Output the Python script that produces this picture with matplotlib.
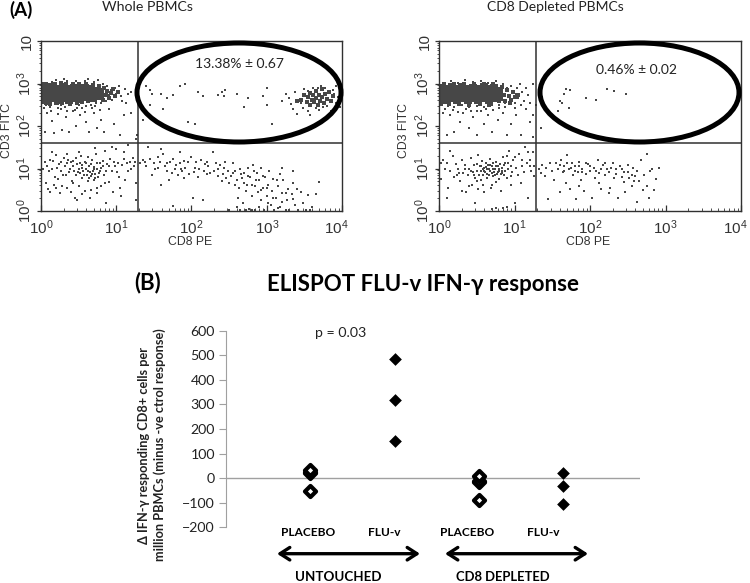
import numpy as np
import matplotlib
matplotlib.use("Agg")
import matplotlib.pyplot as plt
from matplotlib.patches import Ellipse, FancyArrowPatch
from matplotlib.ticker import LogLocator, NullFormatter
from matplotlib.transforms import ScaledTranslation

W, H = 750, 583
plt.rcParams['mathtext.default'] = 'regular'
plt.rcParams['font.family'] = ['Lato', 'DejaVu Sans']

# ---- Flow panels: values are log10 (CD8 PE, CD3 FITC)
flow_xticks = [1, 10, 100, 1000, 10000]
flow_xlabels = ['$10^{0}$', '$10^{1}$', '$10^{2}$', '$10^{3}$', '$10^{4}$']
flow_ylabels = ['$10^{0}$', '$10^{1}$', '$10^{2}$', '$10^{3}$', '10']
gate_cd8 = 1.29
gate_cd3 = 1.60

whole_core = [(0.03,2.66),(0.03,2.8),(0.03,2.9),(0.09,2.6),(0.09,2.73),(0.1,2.86),(0.16,2.66),(0.17,2.8),(0.16,2.92),
 (0.23,2.62),(0.24,2.74),(0.23,2.87),(0.3,2.65),(0.31,2.8),(0.3,2.92),(0.37,2.62),(0.38,2.75),(0.37,2.88),(0.44,2.67),(0.45,2.8),
 (0.44,2.9),(0.51,2.64),(0.52,2.76),(0.51,2.88),(0.58,2.68),(0.58,2.8),(0.59,2.9),(0.65,2.66),(0.65,2.77),(0.66,2.86),
 (0.71,2.72),(0.72,2.82),(0.78,2.7),(0.78,2.8)]
whole_mid = [(0.02,2.98),(0.07,3.0),(0.12,2.52),(0.18,2.99),(0.21,2.55),(0.26,3.02),(0.28,2.54),(0.33,2.98),(0.39,2.52),(0.42,3.0),
 (0.48,2.54),(0.5,2.98),(0.55,2.56),(0.6,3.0),(0.63,2.58),(0.69,2.97),(0.72,2.62),(0.77,2.93),(0.82,2.62),(0.84,2.9),(0.86,2.72),
 (0.88,2.83),(0.9,2.66),(0.93,2.78),(0.96,2.88),(0.98,2.7),(1.02,2.8),
 (3.46,2.62),(3.5,2.72),(3.53,2.56),(3.55,2.68),(3.58,2.78),(3.58,2.5),(3.6,2.62),(3.62,2.72),(3.63,2.56),(3.65,2.82),(3.66,2.66),
 (3.68,2.5),(3.7,2.74),(3.71,2.6),(3.73,2.86),(3.74,2.68),(3.76,2.54),(3.78,2.76),(3.8,2.64),(3.83,2.8),(3.85,2.58),(3.4,2.58),(3.88,2.7)]
whole_dots = [(0.02,2.55),(0.05,3.02),(0.07,2.5),(0.1,3.0),(0.12,2.45),(0.15,3.03),(0.18,2.52),(0.2,3.08),(0.22,2.42),(0.25,3.02),
 (0.27,2.5),(0.3,3.1),(0.32,2.45),(0.35,3.05),(0.38,2.5),(0.42,3.0),(0.45,2.38),(0.47,3.07),(0.5,2.5),(0.52,3.02),(0.55,2.42),
 (0.58,3.05),(0.6,2.48),(0.63,3.1),(0.66,2.5),(0.7,3.03),(0.73,2.55),(0.76,3.08),(0.8,2.55),(0.82,3.0),(0.86,2.6),(0.88,2.95),
 (0.9,2.72),(0.93,2.85),(0.95,2.62),(0.98,2.9),(1.0,2.75),(1.03,2.95),(1.06,2.7),(1.12,2.88),(1.15,2.75),(1.2,2.8),
 (0.08,2.3),(0.15,2.12),(0.22,2.28),(0.28,1.9),(0.33,2.22),(0.37,1.85),(0.42,2.35),(0.46,2.0),(0.52,2.25),(0.6,2.1),(0.64,1.85),
 (0.7,2.3),(0.75,1.95),(0.8,2.15),(0.84,1.85),(0.9,2.4),(0.97,2.05),(1.05,1.8),(1.1,2.25),(1.2,2.3),(1.26,1.7),(1.27,1.8),(0.05,1.85),(0.17,1.84),
 (0.04,2.42),(0.13,2.35),(0.26,2.4),(0.35,2.36),(0.48,2.42),(0.58,2.32),(0.68,2.42),(0.78,2.38),(1.08,2.6),(1.13,2.55),(0.72,2.48),
 (1.4,2.95),(1.45,2.85),(1.47,2.75),(1.6,2.75),(1.68,2.65),(1.85,2.95),(1.92,3.0),(1.75,2.72),(2.08,2.8),(2.15,2.7),(2.35,2.72),
 (2.4,2.8),(2.45,2.85),(2.43,2.7),(2.6,2.75),(2.75,2.65),(3.0,2.9),(2.95,2.7),(3.0,2.5),(2.7,2.45),(1.45,2.5),(1.62,2.4),(1.95,2.1),
 (2.05,2.05),(1.35,2.15),(3.07,2.05),(3.2,2.6),(3.25,2.75),(3.3,2.65),(3.32,2.52),(3.35,2.4),(3.4,2.28),(3.38,2.8),(3.45,2.55),
 (3.5,2.86),(3.48,2.42),(3.55,2.82),(3.55,2.35),(3.58,2.25),(3.62,2.9),(3.65,2.42),(3.68,2.9),(3.7,2.38),(3.72,2.95),(3.75,2.45),
 (3.78,2.9),(3.8,2.48),(3.9,2.75),(3.85,2.35),(3.88,2.85),(3.92,2.55),(3.92,2.95),(3.95,2.68),(3.97,2.45)]
whole_lower = [(0.05,1.15),(0.08,1.05),(0.1,0.95),(0.12,1.2),(0.15,1.0),(0.18,0.8),(0.06,0.65),(0.2,1.32),(0.22,0.75),(0.24,1.1),
 (0.26,0.95),(0.28,0.6),(0.3,1.25),(0.32,1.05),(0.33,0.85),(0.35,0.55),(0.36,1.2),(0.38,1.0),(0.4,1.15),(0.41,0.7),(0.42,1.05),
 (0.44,0.95),(0.45,0.3),(0.46,1.25),(0.47,0.85),(0.48,1.1),(0.5,1.0),(0.51,0.6),(0.52,0.9),(0.53,1.3),(0.54,1.08),(0.55,0.78),
 (0.56,0.95),(0.58,1.15),(0.59,0.48),(0.6,1.0),(0.61,0.85),(0.62,1.28),(0.63,0.7),(0.64,1.05),(0.65,0.92),(0.66,0.5),(0.67,0.82),
 (0.68,1.2),(0.69,0.95),(0.7,0.72),(0.71,1.03),(0.72,0.87),(0.73,1.35),(0.74,0.55),(0.75,0.98),(0.76,0.8),(0.78,1.12),(0.79,0.95),
 (0.8,0.6),(0.82,1.05),(0.84,0.85),(0.85,1.42),(0.86,0.2),(0.88,1.1),(0.9,0.68),(0.92,1.22),(0.94,0.95),(0.96,0.45),(0.98,1.05),
 (1.0,1.45),(1.02,1.12),(1.04,0.8),(1.06,0.35),(1.08,1.08),(1.1,1.22),(1.12,0.72),(1.14,1.12),(1.16,0.95),(1.18,1.15),(1.2,0.98),
 (1.22,1.25),(1.24,1.05),(1.26,0.65),(1.26,0.25),(1.25,1.15),(0.14,1.4),(0.35,1.35),(0.5,1.4),(0.72,1.48),(0.95,1.5),(1.15,1.55),
 (0.12,0.45),(0.2,0.55),(0.4,0.45),(0.48,0.25),(0.42,0.65),(0.65,0.3),(0.85,0.65),(1.05,0.55),
 (0.34,1.12),(0.37,0.92),(0.43,1.18),(0.49,0.92),(0.52,1.12),(0.55,1.02),(0.57,0.85),(0.6,1.12),(0.62,0.95),(0.64,0.78),(0.66,1.1),
 (0.68,0.88),(0.7,1.0),(0.72,0.78),(0.74,1.12),(0.77,0.9),(0.8,1.02),(0.83,1.18),(0.87,0.95),(0.91,1.05),(0.97,1.15),(1.01,0.92),
 (0.16,1.18),(0.21,1.02),(0.27,1.15),(0.29,0.85),(0.03,0.98),(0.09,0.52),(0.17,0.62),(0.25,0.42),(0.55,0.4),(0.75,0.42),(1.1,1.4),
 (1.32,1.12),(1.35,1.2),(1.38,1.15),(1.4,1.05),(1.42,1.5),(1.45,1.22),(1.48,0.85),(1.5,1.12),(1.52,1.0),(1.55,1.28),(1.58,1.15),
 (1.6,0.62),(1.62,1.35),(1.65,1.05),(1.68,0.95),(1.7,0.72),(1.72,1.15),(1.75,0.12),(1.78,0.98),(1.8,1.08),(1.82,0.85),(1.85,1.12),
 (1.88,0.95),(1.9,0.78),(1.92,1.02),(1.95,1.15),(1.97,0.88),(2.0,1.28),(2.02,0.3),(2.05,1.02),(2.08,0.8),(2.1,0.98),(2.12,1.2),
 (2.15,0.25),(2.18,1.1),(2.2,0.88),(2.22,1.05),(2.25,0.9),(2.28,1.38),(2.3,0.95),(2.32,1.12),(2.35,0.82),(2.38,1.08),(2.4,0.7),
 (2.42,0.88),(2.45,1.15),(2.48,0.95),(2.5,0.65),(2.52,0.82),(2.55,1.12),(2.58,0.95),(2.6,0.72),(2.62,0.3),(2.63,0.55),(2.65,1.0),
 (2.67,0.78),(2.68,0.2),(2.7,0.9),(2.72,0.48),(2.74,0.62),(2.75,1.02),(2.77,0.05),(2.78,0.8),(2.8,0.35),(2.82,1.08),(2.84,0.6),
 (2.85,0.02),(2.87,0.9),(2.88,0.45),(2.9,0.72),(2.92,0.25),(2.93,1.02),(2.95,0.55),(2.97,0.02),(2.98,0.8),(3.0,0.35),(3.02,0.62),
 (3.03,0.95),(3.05,0.15),(3.07,0.48),(3.08,0.75),(3.1,0.02),(3.12,0.3),(3.15,0.58),(3.17,0.88),(3.18,0.1),(3.2,0.42),(3.22,0.72),
 (3.25,0.02),(3.27,0.25),(3.28,0.52),(3.3,0.02),(3.33,0.4),(3.35,0.65),(3.38,0.15),(3.42,0.03),(3.45,0.45),(3.48,0.2),(3.52,0.02),
 (3.55,0.38),(3.58,0.02),(3.6,0.1),(3.7,0.68),(3.65,0.4),(3.35,0.95),(3.2,1.02),(2.5,0.02),(2.65,0.02),(2.72,0.02),(2.6,0.1),
 (1.55,1.02),(1.68,1.12),(1.74,0.9),(1.76,1.22),(1.86,1.0),(1.9,1.18),(2.03,0.92),(2.06,1.15),(2.16,0.95),(2.2,1.15),(2.35,0.98),
 (2.43,1.02),(2.46,0.78),(2.55,0.9),(2.58,0.62),(2.66,0.88),(2.7,0.65),(2.75,0.82),(2.8,0.62),(2.83,0.95),(2.86,0.72),(2.92,0.5),
 (2.95,0.82),(3.0,0.55),(3.02,0.18),(3.08,0.3),(3.13,0.72),(3.15,0.08),(3.2,0.22),(3.25,0.42),(3.35,0.28),(3.4,0.52),(2.9,0.1),(2.8,0.02),(1.6,1.45),(1.85,1.4)]

depl_core = [(0.03,2.66),(0.04,2.8),(0.03,2.9),(0.1,2.62),(0.1,2.74),(0.1,2.88),(0.17,2.66),(0.17,2.8),(0.17,2.92),(0.24,2.62),
 (0.24,2.75),(0.24,2.88),(0.31,2.65),(0.31,2.78),(0.31,2.92),(0.38,2.62),(0.38,2.75),(0.38,2.88),(0.45,2.65),(0.45,2.78),(0.45,2.9),
 (0.52,2.62),(0.52,2.75),(0.52,2.88),(0.59,2.65),(0.59,2.78),(0.59,2.92),(0.66,2.62),(0.66,2.74),(0.66,2.88),(0.73,2.65),(0.73,2.78),
 (0.73,2.9),(0.8,2.68),(0.8,2.82)]
depl_mid = [(0.02,2.52),(0.07,2.98),(0.13,2.52),(0.2,2.98),(0.26,2.52),(0.33,3.0),(0.4,2.5),(0.47,2.98),(0.54,2.52),(0.6,2.98),(0.66,2.5),
 (0.72,2.98),(0.8,2.58),(0.84,2.92),(0.86,2.72),(0.88,2.6),(0.9,2.84),(0.93,2.7),(0.96,2.62),(0.98,2.8),(1.0,2.68),(1.04,2.74),(0.94,2.55)]
depl_dots = [(0.04,2.5),(0.08,3.02),(0.12,2.48),(0.16,3.05),(0.2,2.45),(0.25,3.02),(0.3,2.5),(0.35,3.08),(0.4,2.45),(0.45,3.03),
 (0.5,2.48),(0.55,3.05),(0.6,2.45),(0.65,3.02),(0.7,2.5),(0.75,3.05),(0.8,2.5),(0.85,3.0),(0.87,2.55),(0.9,2.9),(0.92,2.7),(0.95,2.95),
 (0.97,2.6),(0.98,2.82),(1.0,2.55),(1.02,2.75),(1.03,2.9),(1.05,2.65),(1.07,2.98),(1.1,2.8),(1.12,2.6),(1.15,2.9),(1.18,2.72),(1.2,2.55),(1.25,3.0),
 (0.05,2.3),(0.1,1.8),(0.15,2.25),(0.2,1.85),(0.28,2.1),(0.32,2.3),(0.4,1.95),(0.45,2.2),(0.5,1.78),(0.55,2.35),(0.6,2.05),(0.65,2.25),
 (0.7,1.85),(0.78,2.15),(0.85,2.3),(0.9,1.8),(0.95,2.05),(1.02,2.25),(1.08,1.8),(1.15,2.4),(1.2,2.1),(1.25,2.25),(1.25,1.75),
 (0.08,2.4),(0.18,2.38),(0.25,2.32),(0.36,2.4),(0.42,2.36),(0.5,2.35),(0.62,2.4),(0.72,2.38),(0.8,2.42),(0.88,2.45),(1.0,2.42),(1.08,2.5),
 (1.35,1.95),(1.28,2.5),(1.65,2.75),(1.68,2.88),(1.73,2.85),(1.6,2.6),(1.63,2.55),(1.72,2.42),(1.95,2.65),(2.08,2.62),(2.22,2.88),
 (2.32,2.82),(2.48,2.75),(1.58,2.35),(1.36,2.68)]
depl_lower = [(0.05,1.2),(0.08,1.0),(0.1,1.12),(0.12,0.55),(0.15,0.95),(0.18,1.3),(0.2,0.8),(0.22,1.1),(0.25,1.0),(0.28,0.7),
 (0.3,1.2),(0.32,0.9),(0.34,1.08),(0.36,0.45),(0.38,0.85),(0.4,1.0),(0.42,1.25),(0.44,0.62),(0.45,0.92),(0.47,1.08),(0.48,0.78),
 (0.5,0.95),(0.51,1.32),(0.52,0.52),(0.53,0.85),(0.54,1.05),(0.55,0.72),(0.56,0.95),(0.57,1.18),(0.58,0.85),(0.59,0.45),(0.6,1.02),
 (0.61,0.92),(0.62,1.12),(0.63,0.78),(0.64,0.98),(0.65,1.08),(0.66,0.85),(0.67,1.22),(0.68,0.95),(0.69,0.55),(0.7,1.05),(0.71,0.82),
 (0.72,1.12),(0.73,0.92),(0.74,1.0),(0.75,0.68),(0.76,1.15),(0.77,0.88),(0.78,1.05),(0.79,0.95),(0.8,0.75),(0.81,1.1),(0.82,0.48),
 (0.83,0.9),(0.84,1.02),(0.85,1.28),(0.86,0.85),(0.87,0.95),(0.88,1.12),(0.9,0.78),(0.92,1.0),(0.93,1.42),(0.95,0.62),(0.97,0.92),
 (0.98,1.2),(1.0,0.18),(1.02,1.02),(1.04,0.85),(1.06,1.35),(1.08,0.65),(1.1,1.05),(1.12,0.92),(1.14,1.5),(1.16,1.12),(1.18,0.3),
 (1.2,1.2),(1.22,0.95),(1.24,1.38),(1.26,1.05),(1.26,0.82),(0.1,0.3),(0.15,1.42),(0.48,0.2),(0.7,0.05),(0.75,0.08),(0.85,0.06),(0.3,0.48),(0.9,0.1),
 (0.6,0.95),(0.62,1.04),(0.64,0.88),(0.66,1.0),(0.68,1.08),(0.7,0.9),(0.72,1.0),(0.74,0.85),(0.76,1.05),(0.78,0.92),(0.8,1.0),(0.82,0.86),
 (0.84,0.95),(0.86,1.08),(0.56,1.05),(0.58,0.98),(0.5,1.1),(0.46,0.85),(0.42,0.95),(0.35,0.98),(0.27,0.9),(0.24,0.85),(0.92,1.12),(0.96,1.05),
 (0.7,0.62),(0.58,0.62),(0.5,0.7),(0.4,0.58),(0.95,0.82),(1.0,1.28),(1.1,1.2),(1.2,1.05),(0.03,1.12),(0.02,0.75),(0.9,1.3),(1.18,1.4),
 (1.33,1.0),(1.35,0.9),(1.37,1.08),(1.4,0.82),(1.42,1.02),(1.45,0.28),(1.47,1.12),(1.5,0.95),(1.52,0.72),(1.55,1.12),(1.57,1.0),
 (1.6,0.45),(1.62,1.2),(1.64,0.92),(1.66,1.05),(1.68,0.65),(1.7,1.32),(1.72,0.98),(1.74,0.52),(1.76,1.12),(1.78,0.85),(1.8,1.05),
 (1.82,0.28),(1.84,0.92),(1.86,1.15),(1.88,0.72),(1.9,1.0),(1.92,0.48),(1.95,0.88),(1.97,1.1),(2.0,0.95),(2.03,0.3),(2.05,1.02),
 (2.07,0.78),(2.1,1.2),(2.12,0.9),(2.15,0.52),(2.17,1.08),(2.2,0.85),(2.22,1.0),(2.25,0.92),(2.27,0.55),(2.3,1.12),(2.32,0.78),
 (2.35,0.98),(2.37,0.3),(2.4,1.05),(2.42,0.8),(2.45,0.92),(2.47,0.45),(2.5,1.08),(2.52,0.78),(2.55,0.6),(2.57,1.02),(2.6,0.82),
 (2.62,0.22),(2.65,0.7),(2.68,1.2),(2.7,0.5),(2.72,0.85),(2.75,0.6),(2.78,0.3),(2.8,0.95),(2.82,1.0),(2.85,0.5),(2.88,0.75),(2.75,1.35),(2.92,1.02),
 (1.6,1.08),(1.66,0.95),(1.7,1.12),(1.75,1.02),(1.8,0.95),(1.85,1.05),(1.9,0.92),(1.95,1.12),(2.0,1.05),(2.08,0.95),(2.15,1.0),(2.2,1.12),(2.28,1.02),
 (2.35,0.88),(2.42,1.0),(2.5,0.92),(2.55,0.85),(2.62,0.95),(2.58,0.7),(2.45,0.68),(2.12,0.65),(1.85,0.6),(2.25,0.42)]

# ---- ELISPOT panel
groups = ['PLACEBO', 'FLU-v', 'PLACEBO', 'FLU-v']
eli_ticks = [-200, -100, 0, 100, 200, 300, 400, 500, 600]
placebo_untouched = [-53, 20, 25, 35]
fluv_untouched = [483, 320, 150]
placebo_depleted = [-90, -15, -10, 10]
fluv_depleted = [22, -30, -105]

fig = plt.figure(figsize=(W/100, H/100), dpi=100)

def axes_px(l, t, r, b):
    return fig.add_axes([l/W, 1-b/H, (r-l)/W, (b-t)/H])

def tx(x, y, s, **kw):
    kw.setdefault('ha', 'center'); kw.setdefault('va', 'center')
    return fig.text(x/W, 1-y/H, s, **kw)

def flow(box, core, mid, dots, lower):
    ax = axes_px(*box)
    ax.set_xscale('log'); ax.set_yscale('log')
    ax.set_xlim(1, 10000); ax.set_ylim(1, 10000)
    col = '#474747'
    for arr, s in ((core, 36), (mid, 7), (dots, 2.6), (lower, 2.6)):
        a = np.array(arr)
        ax.scatter(10**a[:, 0], 10**a[:, 1], s=s, marker='s', c=col, linewidths=0, zorder=2)
    ax.axvline(10**gate_cd8, color='#303030', lw=1.1, zorder=3)
    ax.axhline(10**gate_cd3, color='#303030', lw=1.1, zorder=3)
    ax.set_xticks(flow_xticks, flow_xlabels, fontfamily='Liberation Sans', fontsize=11, color='#333333')
    ax.set_yticks(flow_xticks, flow_ylabels, fontfamily='Liberation Sans', fontsize=11, color='#333333',
                  rotation=90, va='center')
    ax.tick_params(axis='x', which='major', length=4, width=0.9, direction='in', pad=5, color='#333333')
    ax.tick_params(axis='y', which='major', direction='out', length=3, width=0.9, pad=2, color='#333333')
    ax.tick_params(axis='x', which='minor', length=2, width=0.6, direction='in', color='#333333')
    ax.tick_params(axis='y', which='minor', direction='out', length=1.5, width=0.6, color='#333333')
    ax.xaxis.set_minor_locator(LogLocator(10, subs=range(2, 10)))
    ax.yaxis.set_minor_locator(LogLocator(10, subs=range(2, 10)))
    ax.xaxis.set_minor_formatter(NullFormatter())
    ax.yaxis.set_minor_formatter(NullFormatter())
    last = ax.get_xticklabels()[-1]
    last.set_ha('right')
    last.set_transform(last.get_transform() + ScaledTranslation(7/100, 0, fig.dpi_scale_trans))
    for sp in ax.spines.values():
        sp.set_linewidth(1.0); sp.set_color('#303030')
    return ax

ax1 = flow((41, 41, 342, 211), whole_core, whole_mid, whole_dots, whole_lower)
ax2 = flow((439, 41, 741, 211), depl_core, depl_mid, depl_dots, depl_lower)

def ring(x0, x1, y0, y1):
    fig.add_artist(Ellipse(((x0+x1)/2/W, 1-(y0+y1)/2/H), (x1-x0)/W, (y1-y0)/H, transform=fig.transFigure,
                           fill=False, ec='black', lw=3.6, zorder=5))
ring(137, 341, 43, 142)
ring(540, 739, 43, 142)

tx(21, 10, '(A)', fontsize=13.5, fontweight='bold')
tx(147, 7, 'Whole PBMCs', fontsize=10.2, color='#222222')
tx(555, 7, 'CD8 Depleted PBMCs', fontsize=10, color='#222222')
tx(239, 64, '13.38% ± 0.67', fontsize=10, color='#222222')
tx(637, 70, '0.46% ± 0.02', fontsize=10, color='#222222')
for cx in (190, 588):
    tx(cx, 242, 'CD8 PE', fontsize=8.8, family='Liberation Sans', color='#333333')
for cx in (7, 404):
    tx(cx, 130, 'CD3 FITC', fontsize=8.8, family='Liberation Sans', rotation=90, color='#333333')

# ---- B
tx(148, 283, '(B)', fontsize=16, fontweight='bold')
tx(423, 284, 'ELISPOT FLU-v IFN-γ response', fontsize=16, fontweight='bold')

ax3 = axes_px(226, 330.7, 640, 527.3)
ax3.set_xlim(0, 4.91); ax3.set_ylim(-200, 600)
ax3.patch.set_alpha(0)
for sp in ('top', 'right', 'bottom'):
    ax3.spines[sp].set_visible(False)
ax3.spines['left'].set_color('#a0a0a0')
ax3.set_xticks([])
ax3.set_yticks(eli_ticks)
ax3.tick_params(axis='y', length=5, width=0.8, color='#a0a0a0', labelsize=10.2, labelcolor='#222222', pad=3)
ax3.axhline(0, color='#a0a0a0', lw=1.0, zorder=1)
for xpos, vals in zip((1, 3), (placebo_untouched, placebo_depleted)):
    ax3.scatter([xpos]*len(vals), vals, marker='D', s=32, facecolor='white', edgecolor='black', linewidths=3, zorder=3)
for xpos, vals in zip((2, 4), (fluv_untouched, fluv_depleted)):
    ax3.scatter([xpos]*len(vals), vals, marker='D', s=42, c='black', linewidths=0, zorder=3)

tx(315, 333, 'p = 0.03', fontsize=10.2, ha='left', color='#222222')
for cx, s in zip((307.7, 384, 467, 543), groups):
    tx(cx, 533, s, fontsize=8.6, fontweight='bold')
tx(338, 577, 'UNTOUCHED', fontsize=9.6, fontweight='bold')
tx(503, 577, 'CD8 DEPLETED', fontsize=9.4, fontweight='bold')
for x0, x1 in ((277, 420), (445, 588)):
    fig.add_artist(FancyArrowPatch((x0/W, 1-553.7/H), (x1/W, 1-553.7/H), transform=fig.transFigure,
                                   arrowstyle='<->,head_length=7,head_width=4.5', lw=2.4, color='black',
                                   shrinkA=0, shrinkB=0, mutation_scale=1))
tx(152, 445, 'Δ IFN-γ responding CD8+ cells per\nmillion PBMCs (minus -ve ctrol response)', fontsize=9.2,
   fontweight='bold', rotation=90, linespacing=1.25, color='#222222')

fig.savefig('out.png', dpi=100)
